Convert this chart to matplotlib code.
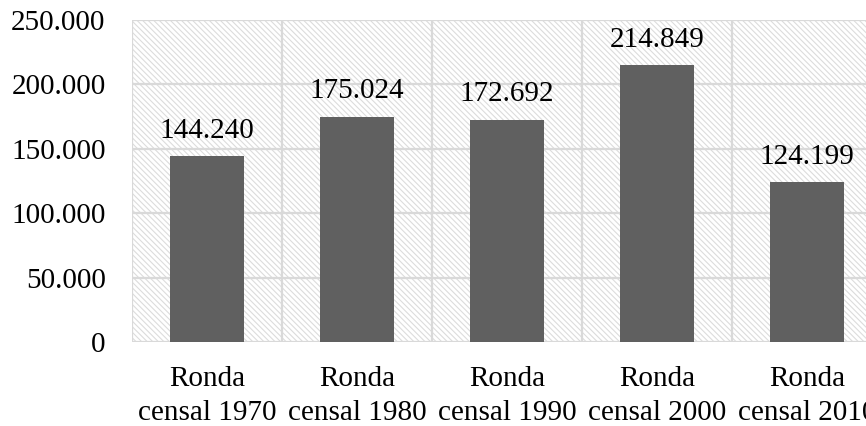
import matplotlib
matplotlib.use("Agg")
import matplotlib.pyplot as plt
from matplotlib.patches import Rectangle
from matplotlib.ticker import FuncFormatter

categories = ["Ronda\ncensal 1970", "Ronda\ncensal 1980", "Ronda\ncensal 1990",
              "Ronda\ncensal 2000", "Ronda\ncensal 2010"]
values = [144240, 175024, 172692, 214849, 124199]
y_ticks = [0, 50000, 100000, 150000, 200000, 250000]


def fmt_thousands(v):
    return f"{int(round(v)):,}".replace(",", ".")


plt.rcParams["font.family"] = ["Liberation Serif", "DejaVu Serif"]
plt.rcParams["hatch.linewidth"] = 0.8

FS = 21

fig = plt.figure(figsize=(8.66, 4.26), dpi=100)
ax = fig.add_axes([132 / 866, 1 - 342 / 426, 750 / 866, 322 / 426])

# hatched background
bg = Rectangle((0, 0), 1, 1, transform=ax.transAxes, facecolor="white",
               edgecolor="#dcdcdc", hatch="\\" * 6, linewidth=0, zorder=0)
ax.add_patch(bg)

x = list(range(len(values)))
ax.bar(x, values, width=0.49, color="#606060", zorder=3)

for xi, v in zip(x, values):
    ax.annotate(fmt_thousands(v), (xi, v), xytext=(0, 9), textcoords="offset points",
                ha="center", va="bottom", fontsize=FS, color="black")

ax.set_xlim(-0.5, len(values) - 0.5)
ax.set_ylim(0, 250000)
ax.set_yticks(y_ticks)
ax.yaxis.set_major_formatter(FuncFormatter(lambda v, p: fmt_thousands(v)))
ax.set_xticks(x)
ax.set_xticklabels(categories, fontsize=FS, linespacing=1.4)

# grid: horizontal at ticks, vertical at category boundaries
for yv in y_ticks:
    ax.axhline(yv, color="#d9d9d9", linewidth=1.6, zorder=1)
for b in range(len(values) + 1):
    ax.axvline(b - 0.5, color="#d9d9d9", linewidth=1.6, zorder=1)

for s in ax.spines.values():
    s.set_visible(False)
ax.tick_params(axis="both", length=0, labelsize=FS)
ax.tick_params(axis="y", pad=19)
ax.tick_params(axis="x", pad=17)

fig.savefig("out.png", dpi=100)
